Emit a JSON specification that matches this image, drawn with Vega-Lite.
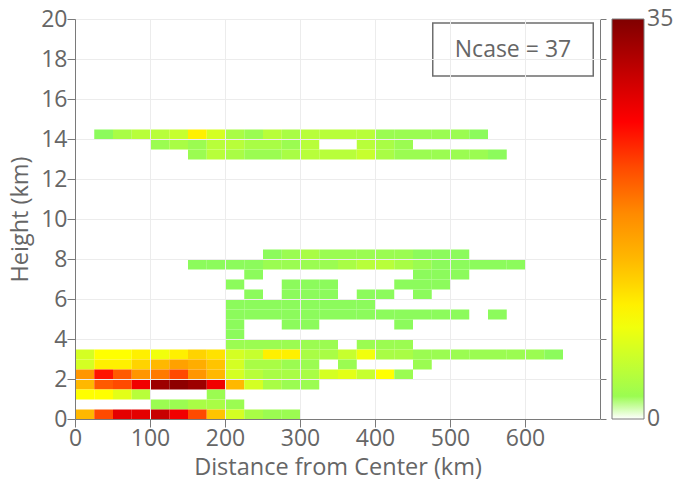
{
  "$schema": "https://vega.github.io/schema/vega-lite/v6.json",
  "width": 525,
  "height": 400,
  "autosize": "none",
  "padding": {"left": 75, "top": 19, "right": 79, "bottom": 67},
  "background": "white",
  "config": {
    "font": "Open Sans",
    "view": {"stroke": "#7a7a7a", "strokeWidth": 1},
    "axis": {
      "labelFont": "Open Sans",
      "titleFont": "Open Sans",
      "labelFontSize": 23,
      "titleFontSize": 23.5,
      "titleFontWeight": "normal",
      "labelColor": "#666666",
      "titleColor": "#666666",
      "domainColor": "#7a7a7a",
      "tickColor": "#7a7a7a",
      "tickSize": 8,
      "gridColor": "#ececec",
      "gridWidth": 1
    },
    "legend": {
      "labelFont": "Open Sans",
      "labelFontSize": 23,
      "labelColor": "#666666"
    }
  },
  "datasets": {
    "cells": [
      {"d": 25, "h": 14.0, "n": 1}, {"d": 50, "h": 14.0, "n": 3}, {"d": 75, "h": 14.0, "n": 4}, {"d": 100, "h": 14.0, "n": 4},
      {"d": 125, "h": 14.0, "n": 5}, {"d": 150, "h": 14.0, "n": 10}, {"d": 175, "h": 14.0, "n": 6}, {"d": 200, "h": 14.0, "n": 3},
      {"d": 225, "h": 14.0, "n": 2}, {"d": 250, "h": 14.0, "n": 4}, {"d": 275, "h": 14.0, "n": 3}, {"d": 300, "h": 14.0, "n": 4},
      {"d": 325, "h": 14.0, "n": 4}, {"d": 350, "h": 14.0, "n": 4}, {"d": 375, "h": 14.0, "n": 4}, {"d": 400, "h": 14.0, "n": 2},
      {"d": 425, "h": 14.0, "n": 2}, {"d": 450, "h": 14.0, "n": 2}, {"d": 475, "h": 14.0, "n": 2}, {"d": 500, "h": 14.0, "n": 2},
      {"d": 525, "h": 14.0, "n": 1},

      {"d": 100, "h": 13.5, "n": 2}, {"d": 125, "h": 13.5, "n": 3}, {"d": 150, "h": 13.5, "n": 2}, {"d": 175, "h": 13.5, "n": 4},
      {"d": 200, "h": 13.5, "n": 4}, {"d": 225, "h": 13.5, "n": 3}, {"d": 250, "h": 13.5, "n": 3}, {"d": 275, "h": 13.5, "n": 2},
      {"d": 300, "h": 13.5, "n": 4}, {"d": 375, "h": 13.5, "n": 4}, {"d": 400, "h": 13.5, "n": 3}, {"d": 425, "h": 13.5, "n": 2},

      {"d": 150, "h": 13.0, "n": 2}, {"d": 175, "h": 13.0, "n": 4}, {"d": 200, "h": 13.0, "n": 3}, {"d": 225, "h": 13.0, "n": 2},
      {"d": 250, "h": 13.0, "n": 2}, {"d": 275, "h": 13.0, "n": 3}, {"d": 300, "h": 13.0, "n": 4}, {"d": 325, "h": 13.0, "n": 4},
      {"d": 350, "h": 13.0, "n": 4}, {"d": 375, "h": 13.0, "n": 5}, {"d": 400, "h": 13.0, "n": 3}, {"d": 425, "h": 13.0, "n": 2},
      {"d": 450, "h": 13.0, "n": 2}, {"d": 475, "h": 13.0, "n": 2}, {"d": 500, "h": 13.0, "n": 2}, {"d": 525, "h": 13.0, "n": 2},
      {"d": 550, "h": 13.0, "n": 1},

      {"d": 250, "h": 8.0, "n": 1}, {"d": 275, "h": 8.0, "n": 2}, {"d": 300, "h": 8.0, "n": 3}, {"d": 325, "h": 8.0, "n": 2},
      {"d": 350, "h": 8.0, "n": 2}, {"d": 375, "h": 8.0, "n": 2}, {"d": 400, "h": 8.0, "n": 2}, {"d": 425, "h": 8.0, "n": 2},
      {"d": 450, "h": 8.0, "n": 1}, {"d": 475, "h": 8.0, "n": 1}, {"d": 500, "h": 8.0, "n": 1},

      {"d": 150, "h": 7.5, "n": 1}, {"d": 175, "h": 7.5, "n": 1}, {"d": 200, "h": 7.5, "n": 1}, {"d": 225, "h": 7.5, "n": 1},
      {"d": 250, "h": 7.5, "n": 2}, {"d": 275, "h": 7.5, "n": 2}, {"d": 300, "h": 7.5, "n": 2}, {"d": 325, "h": 7.5, "n": 2},
      {"d": 350, "h": 7.5, "n": 3}, {"d": 375, "h": 7.5, "n": 4}, {"d": 400, "h": 7.5, "n": 4}, {"d": 425, "h": 7.5, "n": 3},
      {"d": 450, "h": 7.5, "n": 2}, {"d": 475, "h": 7.5, "n": 1}, {"d": 500, "h": 7.5, "n": 1}, {"d": 525, "h": 7.5, "n": 1},
      {"d": 550, "h": 7.5, "n": 1}, {"d": 575, "h": 7.5, "n": 1},

      {"d": 225, "h": 7.0, "n": 1}, {"d": 450, "h": 7.0, "n": 1}, {"d": 475, "h": 7.0, "n": 1}, {"d": 500, "h": 7.0, "n": 1},

      {"d": 200, "h": 6.5, "n": 1}, {"d": 275, "h": 6.5, "n": 1}, {"d": 300, "h": 6.5, "n": 1}, {"d": 325, "h": 6.5, "n": 1},
      {"d": 425, "h": 6.5, "n": 1}, {"d": 450, "h": 6.5, "n": 1}, {"d": 475, "h": 6.5, "n": 1},

      {"d": 225, "h": 6.0, "n": 1}, {"d": 275, "h": 6.0, "n": 1}, {"d": 300, "h": 6.0, "n": 1}, {"d": 325, "h": 6.0, "n": 1},
      {"d": 375, "h": 6.0, "n": 1}, {"d": 400, "h": 6.0, "n": 1}, {"d": 450, "h": 6.0, "n": 1},

      {"d": 200, "h": 5.5, "n": 1}, {"d": 225, "h": 5.5, "n": 1}, {"d": 250, "h": 5.5, "n": 1}, {"d": 275, "h": 5.5, "n": 1},
      {"d": 300, "h": 5.5, "n": 1}, {"d": 325, "h": 5.5, "n": 1}, {"d": 350, "h": 5.5, "n": 1}, {"d": 375, "h": 5.5, "n": 1},

      {"d": 200, "h": 5.0, "n": 1}, {"d": 225, "h": 5.0, "n": 1}, {"d": 250, "h": 5.0, "n": 1}, {"d": 275, "h": 5.0, "n": 1},
      {"d": 300, "h": 5.0, "n": 1}, {"d": 325, "h": 5.0, "n": 1}, {"d": 350, "h": 5.0, "n": 1}, {"d": 375, "h": 5.0, "n": 1},
      {"d": 400, "h": 5.0, "n": 1}, {"d": 425, "h": 5.0, "n": 1}, {"d": 450, "h": 5.0, "n": 1}, {"d": 475, "h": 5.0, "n": 1},
      {"d": 500, "h": 5.0, "n": 1}, {"d": 550, "h": 5.0, "n": 1},

      {"d": 200, "h": 4.5, "n": 1}, {"d": 275, "h": 4.5, "n": 1}, {"d": 300, "h": 4.5, "n": 1}, {"d": 425, "h": 4.5, "n": 1},

      {"d": 200, "h": 4.0, "n": 1},

      {"d": 200, "h": 3.5, "n": 2}, {"d": 225, "h": 3.5, "n": 2}, {"d": 250, "h": 3.5, "n": 2}, {"d": 275, "h": 3.5, "n": 2},
      {"d": 300, "h": 3.5, "n": 2}, {"d": 325, "h": 3.5, "n": 2}, {"d": 375, "h": 3.5, "n": 2}, {"d": 400, "h": 3.5, "n": 2},
      {"d": 425, "h": 3.5, "n": 2},

      {"d": 0, "h": 3.0, "n": 6}, {"d": 25, "h": 3.0, "n": 9}, {"d": 50, "h": 3.0, "n": 9}, {"d": 75, "h": 3.0, "n": 10},
      {"d": 100, "h": 3.0, "n": 8}, {"d": 125, "h": 3.0, "n": 10}, {"d": 150, "h": 3.0, "n": 12}, {"d": 175, "h": 3.0, "n": 11},
      {"d": 200, "h": 3.0, "n": 6}, {"d": 225, "h": 3.0, "n": 5}, {"d": 250, "h": 3.0, "n": 10}, {"d": 275, "h": 3.0, "n": 10},
      {"d": 300, "h": 3.0, "n": 3}, {"d": 325, "h": 3.0, "n": 3}, {"d": 350, "h": 3.0, "n": 5}, {"d": 375, "h": 3.0, "n": 8},
      {"d": 400, "h": 3.0, "n": 3}, {"d": 425, "h": 3.0, "n": 3}, {"d": 450, "h": 3.0, "n": 2}, {"d": 475, "h": 3.0, "n": 2},
      {"d": 500, "h": 3.0, "n": 2}, {"d": 525, "h": 3.0, "n": 2}, {"d": 550, "h": 3.0, "n": 2}, {"d": 575, "h": 3.0, "n": 2},
      {"d": 600, "h": 3.0, "n": 2}, {"d": 625, "h": 3.0, "n": 1},

      {"d": 0, "h": 2.5, "n": 6}, {"d": 25, "h": 2.5, "n": 10}, {"d": 50, "h": 2.5, "n": 10}, {"d": 75, "h": 2.5, "n": 12},
      {"d": 100, "h": 2.5, "n": 14}, {"d": 125, "h": 2.5, "n": 16}, {"d": 150, "h": 2.5, "n": 15}, {"d": 175, "h": 2.5, "n": 13},
      {"d": 200, "h": 2.5, "n": 6}, {"d": 225, "h": 2.5, "n": 3}, {"d": 250, "h": 2.5, "n": 3}, {"d": 275, "h": 2.5, "n": 2},
      {"d": 300, "h": 2.5, "n": 2}, {"d": 350, "h": 2.5, "n": 2}, {"d": 450, "h": 2.5, "n": 2},

      {"d": 0, "h": 2.0, "n": 17}, {"d": 25, "h": 2.0, "n": 25}, {"d": 50, "h": 2.0, "n": 21}, {"d": 75, "h": 2.0, "n": 17},
      {"d": 100, "h": 2.0, "n": 19}, {"d": 125, "h": 2.0, "n": 22}, {"d": 150, "h": 2.0, "n": 17}, {"d": 175, "h": 2.0, "n": 14},
      {"d": 200, "h": 2.0, "n": 6}, {"d": 225, "h": 2.0, "n": 4}, {"d": 250, "h": 2.0, "n": 3}, {"d": 275, "h": 2.0, "n": 3},
      {"d": 300, "h": 2.0, "n": 3}, {"d": 325, "h": 2.0, "n": 6}, {"d": 350, "h": 2.0, "n": 7}, {"d": 375, "h": 2.0, "n": 5},
      {"d": 400, "h": 2.0, "n": 9}, {"d": 425, "h": 2.0, "n": 2},

      {"d": 0, "h": 1.5, "n": 14}, {"d": 25, "h": 1.5, "n": 21}, {"d": 50, "h": 1.5, "n": 22}, {"d": 75, "h": 1.5, "n": 27},
      {"d": 100, "h": 1.5, "n": 33}, {"d": 125, "h": 1.5, "n": 34}, {"d": 150, "h": 1.5, "n": 33}, {"d": 175, "h": 1.5, "n": 27},
      {"d": 200, "h": 1.5, "n": 14}, {"d": 225, "h": 1.5, "n": 6}, {"d": 250, "h": 1.5, "n": 3}, {"d": 275, "h": 1.5, "n": 2},
      {"d": 300, "h": 1.5, "n": 2},

      {"d": 0, "h": 1.0, "n": 9}, {"d": 25, "h": 1.0, "n": 9}, {"d": 50, "h": 1.0, "n": 7}, {"d": 75, "h": 1.0, "n": 4},
      {"d": 175, "h": 1.0, "n": 2},

      {"d": 100, "h": 0.5, "n": 2}, {"d": 125, "h": 0.5, "n": 2}, {"d": 150, "h": 0.5, "n": 3}, {"d": 175, "h": 0.5, "n": 3},
      {"d": 200, "h": 0.5, "n": 2},

      {"d": 0, "h": 0.0, "n": 14}, {"d": 25, "h": 0.0, "n": 22}, {"d": 50, "h": 0.0, "n": 28}, {"d": 75, "h": 0.0, "n": 28},
      {"d": 100, "h": 0.0, "n": 30}, {"d": 125, "h": 0.0, "n": 27}, {"d": 150, "h": 0.0, "n": 22}, {"d": 175, "h": 0.0, "n": 13},
      {"d": 200, "h": 0.0, "n": 6}, {"d": 225, "h": 0.0, "n": 3}, {"d": 250, "h": 0.0, "n": 2}, {"d": 275, "h": 0.0, "n": 2}
    ],
    "note": [
      {"d0": 477, "d1": 691, "h0": 17.15, "h1": 19.8, "dc": 584, "hc": 18.45, "label": "Ncase = 37"}
    ]
  },
  "layer": [
    {
      "data": {"name": "cells"},
      "mark": {"type": "rect", "stroke": null},
      "encoding": {
        "x": {
          "field": "d", "type": "quantitative",
          "bin": {"binned": true, "step": 25},
          "scale": {"domain": [0, 700], "nice": false, "zero": false},
          "axis": {
            "title": "Distance from Center (km)",
            "values": [0, 100, 200, 300, 400, 500, 600],
            "format": "d",
            "grid": true, "labelPadding": 0, "titlePadding": 5,
            "labelFlush": false
          }
        },
        "y": {
          "field": "h", "type": "quantitative",
          "bin": {"binned": true, "step": 0.5},
          "scale": {"domain": [0, 20], "nice": false, "zero": false},
          "axis": {
            "title": "Height (km)",
            "values": [0, 2, 4, 6, 8, 10, 12, 14, 16, 18, 20],
            "format": "d",
            "grid": true, "labelPadding": 0, "titlePadding": 8,
            "labelFlush": false
          }
        },
        "color": {
          "field": "n", "type": "quantitative",
          "scale": {
            "domain": [0, 0.95, 1, 5, 9, 13, 18, 22, 26, 30, 35],
            "range": ["#ffffff", "#ffffff", "#8cfb5c", "#c6ff2e", "#ffff00", "#ffc400", "#ff8a00", "#ff4a00", "#ff0000", "#c80000", "#800000"],
            "interpolate": "rgb"
          },
          "legend": {
            "title": null,
            "orient": "right",
            "offset": 5,
            "direction": "vertical",
            "gradientLength": 400,
            "gradientThickness": 32,
            "gradientStrokeColor": "#7a7a7a",
            "gradientStrokeWidth": 1,
            "values": [0, 35],
            "labelOffset": 3,
            "labelOverlap": false,
            "encode": {
              "labels": {"update": {"baseline": {"value": "middle"}}}
            }
          }
        }
      }
    },
    {
      "data": {"name": "note"},
      "mark": {"type": "rect", "fill": "white", "stroke": "#6e6e6e", "strokeWidth": 1.5},
      "encoding": {
        "x": {"field": "d0", "type": "quantitative"},
        "x2": {"field": "d1"},
        "y": {
          "field": "h0", "type": "quantitative",
          "axis": {
            "orient": "right", "labels": false, "title": null, "grid": false,
            "domain": false, "values": [0, 2, 4, 6, 8, 10, 12, 14, 16, 18, 20], "tickSize": 6
          }
        },
        "y2": {"field": "h1"}
      }
    },
    {
      "data": {"name": "note"},
      "mark": {"type": "text", "font": "Open Sans", "fontSize": 23, "color": "#666666", "align": "center", "baseline": "middle"},
      "encoding": {
        "x": {"field": "dc", "type": "quantitative"},
        "y": {"field": "hc", "type": "quantitative", "axis": null},
        "text": {"field": "label"}
      }
    }
  ],
  "resolve": {"axis": {"y": "independent"}}
}
